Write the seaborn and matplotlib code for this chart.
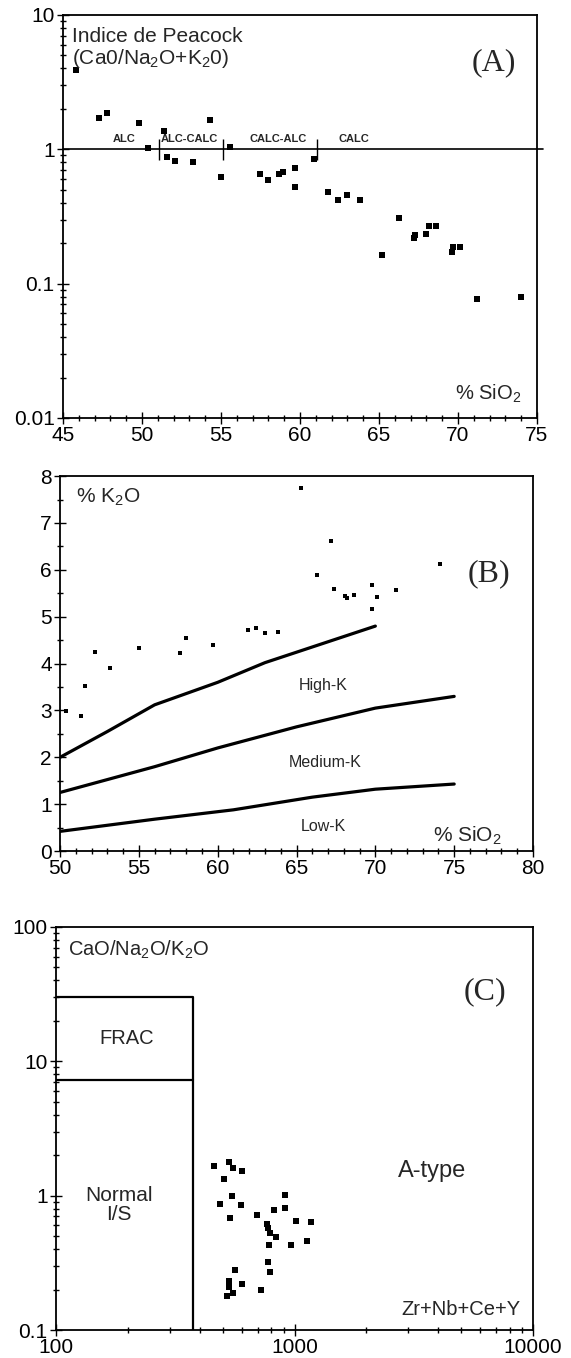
import numpy as np
import pandas as pd
import matplotlib
matplotlib.use("Agg")
import matplotlib.pyplot as plt
import seaborn as sns
from matplotlib.ticker import FixedLocator, MultipleLocator, LogLocator, NullFormatter, FixedFormatter

sns.set_theme(style="white")
plt.rcParams["font.family"] = ["Liberation Sans", "DejaVu Sans"]
plt.rcParams["mathtext.fontset"] = "custom"
plt.rcParams["mathtext.rm"] = "Liberation Sans"

# ── (A) Peacock index vs SiO2 ────────────────────────────────────────────
A_sio2 = [45.8, 47.3, 47.8, 49.8, 50.4, 51.4, 51.6, 52.1, 53.2, 54.3,
          55.0, 55.6, 57.5, 58.0, 58.7, 58.9, 59.7, 59.7, 60.9, 61.8,
          62.4, 63.0, 63.8, 65.2, 66.3, 67.2, 67.3, 68.0, 68.2, 68.6,
          69.6, 69.7, 70.1, 71.2, 74.0]
A_peacock = [3.9, 1.72, 1.85, 1.57, 1.03, 1.36, 0.88, 0.82, 0.80, 1.64,
             0.625, 1.04, 0.65, 0.59, 0.65, 0.68, 0.72, 0.52, 0.84, 0.48,
             0.42, 0.46, 0.42, 0.164, 0.307, 0.22, 0.229, 0.235, 0.27, 0.267,
             0.172, 0.188, 0.186, 0.0765, 0.080]
A_dividers = [51.1, 55.1, 61.1]
A_fields = ["ALC", "ALC-CALC", "CALC-ALC", "CALC"]
A_field_x = [48.9, 53.0, 58.6, 63.4]

# ── (B) K2O vs SiO2 ──────────────────────────────────────────────────────
B_sio2 = [65.3, 67.2, 66.3, 67.4, 68.05, 68.2, 68.65, 69.8, 69.8, 70.1,
          71.3, 74.1, 61.9, 62.4, 63.0, 63.8, 59.7, 58.0, 57.6, 55.0,
          53.2, 52.2, 51.6, 50.4, 51.3]
B_k2o = [7.74, 6.61, 5.90, 5.60, 5.44, 5.39, 5.46, 5.68, 5.17, 5.43,
         5.58, 6.13, 4.72, 4.75, 4.66, 4.67, 4.40, 4.55, 4.23, 4.34,
         3.91, 4.25, 3.52, 2.98, 2.88]
highk_x = [50, 53, 56, 60, 63, 70]
highk_y = [2.0, 2.55, 3.12, 3.6, 4.02, 4.8]
medk_x = [50, 56, 60, 65, 70, 75]
medk_y = [1.25, 1.8, 2.2, 2.65, 3.05, 3.3]
lowk_x = [50, 56, 61, 66, 70, 75]
lowk_y = [0.42, 0.68, 0.88, 1.15, 1.32, 1.43]

# ── (C) CaO/Na2O/K2O vs Zr+Nb+Ce+Y ──────────────────────────────────────
C_sum = [461, 531, 550, 605, 507, 546, 486, 594, 537, 697,
         821, 912, 916, 769, 775, 792, 836, 778, 1014, 1169,
         1128, 968, 775, 789, 564, 531, 531, 605, 550, 521, 724]
C_ratio = [1.67, 1.79, 1.62, 1.53, 1.32, 1.0, 0.87, 0.85, 0.68, 0.72,
           0.78, 1.02, 0.81, 0.62, 0.57, 0.53, 0.49, 0.43, 0.65, 0.64,
           0.46, 0.43, 0.32, 0.27, 0.28, 0.23, 0.21, 0.22, 0.19, 0.18, 0.197]
frac_box_x = [100, 375, 375]
frac_box_y = [30, 30, 0.1]
frac_low_x = [100, 375]
frac_low_y = [7.2, 7.2]

SUB2 = r"$\mathregular{_2}$"
TICK_FS = 15
LAB_FS = 14.5
PANEL_FS = 23


def style_axes(ax):
    for s in ax.spines.values():
        s.set_color("black")
        s.set_linewidth(1.3)
    ax.tick_params(which="both", direction="inout", colors="black",
                   labelsize=TICK_FS, top=False, right=False,
                   left=True, bottom=True, width=1.0)
    ax.tick_params(which="major", length=8, pad=2)
    ax.tick_params(which="minor", length=5)
    ax.set_xlabel("")
    ax.set_ylabel("")
    ax.grid(False)


fig = plt.figure(figsize=(5.71, 13.58), dpi=100)
axA = fig.add_axes([0.1103, 0.6922, 0.8300, 0.2968])
axB = fig.add_axes([0.1051, 0.3733, 0.8284, 0.2761])
axC = fig.add_axes([0.0981, 0.0206, 0.8354, 0.2968])

# ── Panel A ──────────────────────────────────────────────────────────────
sns.scatterplot(x=A_sio2, y=A_peacock, ax=axA, marker="s", s=14,
                color="black", edgecolor="black", linewidth=0)
axA.set_yscale("log")
axA.set_xlim(45, 75)
axA.set_ylim(0.01, 10)
axA.plot([45, 75.4], [1, 1], color="black", lw=1.2, clip_on=False)
axA.vlines(A_dividers, 0.83, 1.2, color="black", lw=1.0)
for lab, xv in zip(A_fields, A_field_x):
    axA.text(xv, 1.1, lab, fontsize=8, fontweight="bold", ha="center", va="bottom")
axA.xaxis.set_major_locator(MultipleLocator(5))
axA.xaxis.set_minor_locator(MultipleLocator(1))
axA.yaxis.set_major_locator(FixedLocator([0.01, 0.1, 1, 10]))
axA.yaxis.set_major_formatter(FixedFormatter(["0.01", "0.1", "1", "10"]))
axA.yaxis.set_minor_locator(LogLocator(base=10, subs=np.arange(2, 10)))
axA.yaxis.set_minor_formatter(NullFormatter())
axA.text(45.6, 8.2, "Indice de Peacock\n(Ca0/Na" + SUB2 + "O+K" + SUB2 + "0)",
         fontsize=LAB_FS + 0.5, ha="left", va="top", linespacing=1.1)
axA.text(72.3, 4.4, "(A)", fontsize=PANEL_FS, family="Liberation Serif",
         ha="center", va="center")
axA.text(74.0, 0.0125, "% SiO" + SUB2, fontsize=LAB_FS, ha="right", va="bottom")
style_axes(axA)

# ── Panel B ──────────────────────────────────────────────────────────────
for lx, ly in [(highk_x, highk_y), (medk_x, medk_y), (lowk_x, lowk_y)]:
    sns.lineplot(x=lx, y=ly, ax=axB, color="black", lw=2.3, sort=False,
                 estimator=None)
sns.scatterplot(x=B_sio2, y=B_k2o, ax=axB, marker="s", s=11,
                color="black", edgecolor="black", linewidth=0)
axB.set_xlim(50, 80)
axB.set_ylim(0, 8)
axB.xaxis.set_major_locator(MultipleLocator(5))
axB.xaxis.set_minor_locator(MultipleLocator(1))
axB.yaxis.set_major_locator(MultipleLocator(1))
axB.yaxis.set_minor_locator(MultipleLocator(0.5))
axB.text(51.0, 7.55, "% K" + SUB2 + "O", fontsize=LAB_FS + 0.5, ha="left", va="center")
axB.text(66.7, 3.54, "High-K", fontsize=11.5, ha="center", va="center")
axB.text(66.8, 1.90, "Medium-K", fontsize=11.5, ha="center", va="center")
axB.text(66.7, 0.53, "Low-K", fontsize=11.5, ha="center", va="center")
axB.text(77.2, 5.92, "(B)", fontsize=PANEL_FS, family="Liberation Serif",
         ha="center", va="center")
axB.text(78.0, 0.08, "% SiO" + SUB2, fontsize=LAB_FS + 0.5, ha="right", va="bottom")
style_axes(axB)

# ── Panel C ──────────────────────────────────────────────────────────────
sns.lineplot(x=frac_box_x, y=frac_box_y, ax=axC, color="black", lw=1.6,
             sort=False, estimator=None)
sns.lineplot(x=frac_low_x, y=frac_low_y, ax=axC, color="black", lw=1.6,
             sort=False, estimator=None)
sns.scatterplot(x=C_sum, y=C_ratio, ax=axC, marker="s", s=15,
                color="black", edgecolor="black", linewidth=0)
axC.set_xscale("log")
axC.set_yscale("log")
axC.set_xlim(100, 10000)
axC.set_ylim(0.1, 100)
axC.xaxis.set_major_locator(FixedLocator([100, 1000, 10000]))
axC.xaxis.set_major_formatter(FixedFormatter(["100", "1000", "10000"]))
axC.xaxis.set_minor_locator(LogLocator(base=10, subs=np.arange(2, 10)))
axC.xaxis.set_minor_formatter(NullFormatter())
axC.yaxis.set_major_locator(FixedLocator([0.1, 1, 10, 100]))
axC.yaxis.set_major_formatter(FixedFormatter(["0.1", "1", "10", "100"]))
axC.yaxis.set_minor_locator(LogLocator(base=10, subs=np.arange(2, 10)))
axC.yaxis.set_minor_formatter(NullFormatter())
axC.text(112, 67, "CaO/Na" + SUB2 + "O/K" + SUB2 + "O", fontsize=LAB_FS,
         ha="left", va="center")
axC.text(197, 14.7, "FRAC", fontsize=LAB_FS, ha="center", va="center")
axC.text(184, 0.85, "Normal\nI/S", fontsize=LAB_FS + 0.5, ha="center", va="center",
         linespacing=1.0)
axC.text(3786, 1.52, "A-type", fontsize=17, ha="center", va="center")
axC.text(6300, 33, "(C)", fontsize=PANEL_FS, family="Liberation Serif",
         ha="center", va="center")
axC.text(8900, 0.12, "Zr+Nb+Ce+Y", fontsize=LAB_FS, ha="right", va="bottom")
style_axes(axC)

plt.savefig("out.png", dpi=100)
plt.close()
